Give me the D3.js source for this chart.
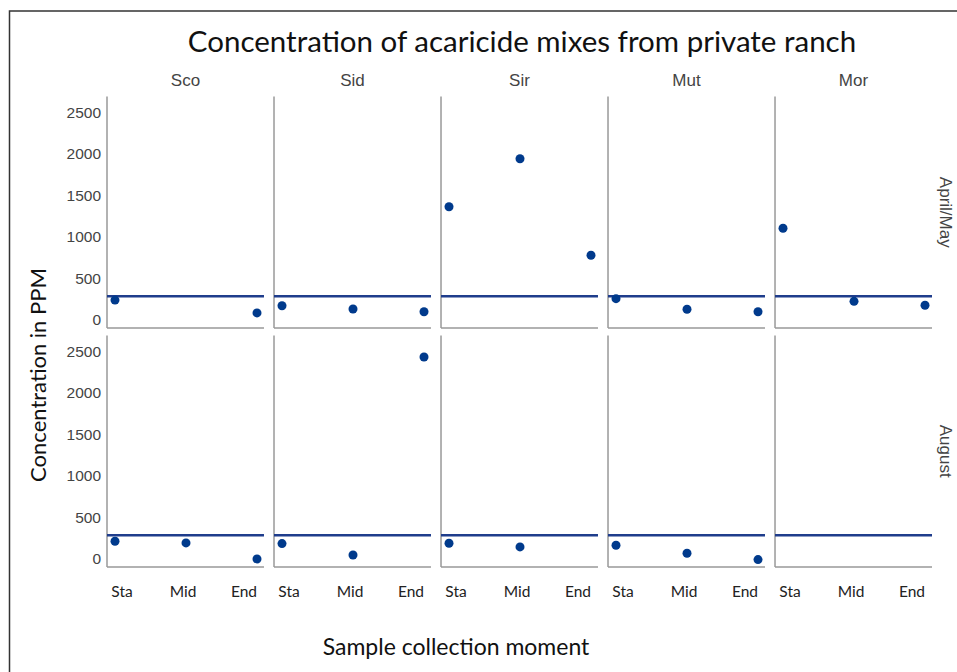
<!DOCTYPE html>
<html>
<head>
<meta charset="utf-8">
<script src="https://cdn.jsdelivr.net/npm/d3@7"></script>
<style>
  body { margin: 0; background: #fff; }
  svg { display: block; }
</style>
</head>
<body>
<div id="chart"></div>
<script>
let width = 957;
let height = 672;

// facets and categories
const mixes = ["Sco", "Sid", "Sir", "Mut", "Mor"];
const months = ["April/May", "August"];
const moments = ["Sta", "Mid", "End"];
const yTicks = [0, 500, 1000, 1500, 2000, 2500];

// concentration (PPM) per mix, in order Sta / Mid / End; null = no sample
const aprilMayValues = [
  [240, null, 85],
  [172, 133, 100],
  [1365, 1943, 780],
  [257, 130, 100],
  [1105, 225, 177]
];
const augustValues = [
  [213, 193, 0],
  [185, 48, 2434],
  [189, 145, null],
  [165, 69, -8],
  [null, null, null]
];
const threshold = 285;

const valuesByMonth = { "April/May": aprilMayValues, "August": augustValues };

const svg = d3.select("#chart")
  .append("svg")
  .attr("width", width)
  .attr("height", height);

// outer frame
svg.append("rect")
  .attr("x", 9.5)
  .attr("y", 11)
  .attr("width", 1000)
  .attr("height", 700)
  .attr("fill", "none")
  .attr("stroke", "#333")
  .attr("stroke-width", 1.5);

// facet scales
const fx = d3.scaleBand()
  .domain(mixes)
  .range([107, 932])
  .paddingInner(0.06);

const fy = d3.scaleBand()
  .domain(months)
  .range([96.5, 567])
  .paddingInner(0.031);

const pw = fx.bandwidth();
const ph = fy.bandwidth();

// within-panel scales
const x = d3.scalePoint()
  .domain(moments)
  .range([8, 150]);

const xLabel = d3.scalePoint()
  .domain(moments)
  .range([15, 137]);

const y = d3.scaleLinear()
  .domain([-97, 2693])
  .range([ph, 0]);

const calibri = "Lato, 'Open Sans', sans-serif";
const arial = "'Liberation Sans', Arial, sans-serif";

// title
svg.append("text")
  .attr("x", 522)
  .attr("y", 52)
  .attr("text-anchor", "middle")
  .style("font-family", calibri)
  .style("font-size", "29.5px")
  .attr("fill", "#111")
  .text("Concentration of acaricide mixes from private ranch");

// column labels
svg.selectAll(".col-label")
  .data(mixes)
  .enter()
  .append("text")
  .attr("class", "col-label")
  .attr("x", d => fx(d) + pw / 2)
  .attr("y", 86)
  .attr("text-anchor", "middle")
  .style("font-family", arial)
  .style("font-size", "17px")
  .attr("fill", "#444")
  .text(d => d);

// row labels
svg.selectAll(".row-label")
  .data(months)
  .enter()
  .append("text")
  .attr("class", "row-label")
  .attr("transform", d => `translate(940, ${fy(d) + ph / 2}) rotate(90)`)
  .attr("text-anchor", "middle")
  .style("font-family", arial)
  .style("font-size", "17px")
  .attr("fill", "#444")
  .text(d => d);

// panels
months.forEach(month => {
  mixes.forEach((mix, i) => {
    const g = svg.append("g")
      .attr("transform", `translate(${fx(mix)}, ${fy(month)})`);

    const vals = valuesByMonth[month][i];

    // y axis labels only in first column
    if (i === 0) {
      const yAxis = g.append("g")
        .call(d3.axisLeft(y).tickValues(yTicks).tickFormat(d3.format("d")).tickSize(0).tickPadding(6));
      yAxis.select(".domain").remove();
      yAxis.selectAll("text")
        .style("font-family", arial)
        .style("font-size", "15.5px")
        .attr("fill", "#444");
    }

    // axis lines
    g.append("line")
      .attr("x1", 0).attr("x2", 0)
      .attr("y1", 0).attr("y2", ph)
      .attr("stroke", "#999")
      .attr("stroke-width", 1.5);
    g.append("line")
      .attr("x1", 0).attr("x2", pw)
      .attr("y1", ph).attr("y2", ph)
      .attr("stroke", "#999")
      .attr("stroke-width", 1.5);

    // threshold line
    g.append("line")
      .attr("x1", 0).attr("x2", pw)
      .attr("y1", y(threshold)).attr("y2", y(threshold))
      .attr("stroke", "#1f3d8c")
      .attr("stroke-width", 2.5);

    // points
    g.selectAll("circle")
      .data(moments.map((m, j) => ({ moment: m, value: vals[j] })).filter(d => d.value !== null))
      .enter()
      .append("circle")
      .attr("cx", d => x(d.moment))
      .attr("cy", d => y(d.value))
      .attr("r", 4.5)
      .attr("fill", "#003a8c");

    // x labels on bottom row
    if (month === months[months.length - 1]) {
      g.selectAll(".x-label")
        .data(moments)
        .enter()
        .append("text")
        .attr("class", "x-label")
        .attr("x", d => xLabel(d))
        .attr("y", ph + 30)
        .attr("text-anchor", "middle")
        .style("font-family", calibri)
        .style("font-size", "15.5px")
        .attr("fill", "#222")
        .text(d => d);
    }
  });
});

// axis titles
svg.append("text")
  .attr("transform", "translate(46, 375) rotate(-90)")
  .attr("text-anchor", "middle")
  .style("font-family", calibri)
  .style("font-size", "22px")
  .attr("fill", "#111")
  .text("Concentration in PPM");

svg.append("text")
  .attr("x", 456)
  .attr("y", 655)
  .attr("text-anchor", "middle")
  .style("font-family", calibri)
  .style("font-size", "23px")
  .attr("fill", "#111")
  .text("Sample collection moment");
</script>
</body>
</html>
